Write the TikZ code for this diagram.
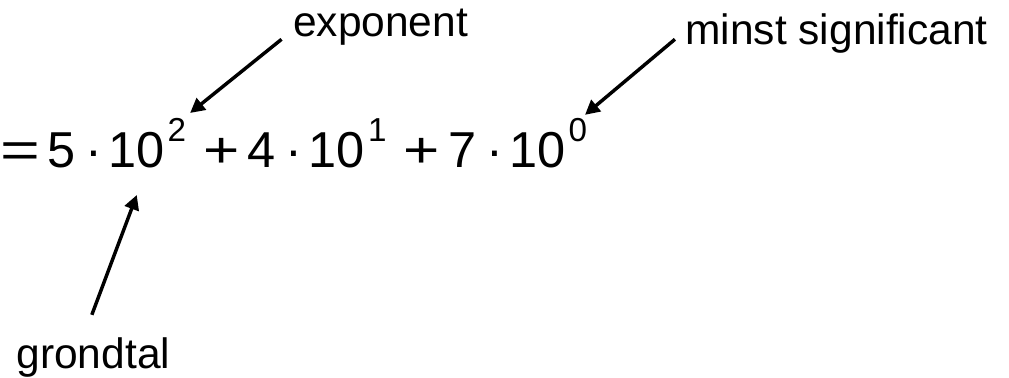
\documentclass[tikz,border=0pt]{standalone}
\usepackage{fontspec}
\setmainfont{Liberation Sans}
\usetikzlibrary{arrows.meta}

% tekens, exponent en spaties in de formule
\newcommand{\feq}{\scalebox{1.35}[1]{=}}
\newcommand{\fplus}{\scalebox{1.23}[1]{+}}
\newcommand{\fpw}[1]{\hspace{2.5pt}\raisebox{19.5pt}{\fontsize{25}{25}\selectfont #1}}
\newcommand{\frg}{\hspace{5.5pt}}
\newcommand{\fdg}{\hspace{7.5pt}}
\newcommand{\fng}{\hspace{4.5pt}}
\newcommand{\fog}{\hspace{13pt}}
\newcommand{\ftg}{\hspace{6.2pt}}

\tikzset{
    term label/.style={
      font=\fontsize{32}{36}\selectfont,
      inner sep=0pt,
      anchor=base west
    },
    formula/.style={
      font=\fontsize{38}{44}\selectfont,
      inner sep=0pt,
      anchor=base west
    },
    pointer/.style={
      line width=2.6pt,
      -{Triangle[length=11pt,width=11pt]}
    }
  }

\begin{document}
\begin{tikzpicture}
      \useasboundingbox (0,0) rectangle (26.70,10.00);

      % formule
      \node[formula] (sum) at (0,5.56)
        {\feq\frg 5\fdg ·\fng 10\fpw{2}\fog\fplus\ftg 4\fdg ·\fng 10\fpw{1}\fog\fplus\ftg 7\fdg ·\fng 10\fpw{0}};

      % labels
      \node[term label] (expo) at (7.75,9.03) {exponent};
      \node[term label] (least) at (18.13,8.83) {minst significant};
      \node[term label] (radix) at (0.43,0.26) {grondtal};

      % punten in de formule
      \coordinate (expoTip) at (5.03,7.01);
      \coordinate (leastTip) at (15.48,6.96);
      \coordinate (radixTip) at (3.62,4.84);

      % pijlen
      \draw[pointer] ([shift={(-0.30,-0.07)}]expo.base west) -- (expoTip);
      \draw[pointer] ([shift={(-0.27,0.13)}]least.base west) -- (leastTip);
      \draw[pointer] ([shift={(2.00,1.41)}]radix.base west) -- (radixTip);
    \end{tikzpicture}
\end{document}
